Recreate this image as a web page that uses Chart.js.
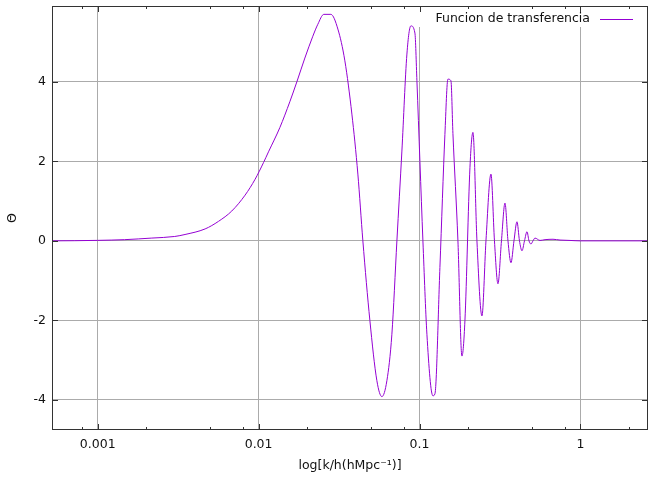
<!DOCTYPE html>
<html><head><meta charset="utf-8">
<script src="https://cdn.jsdelivr.net/npm/chart.js@4"></script>
<style>html,body{margin:0;padding:0;background:#fff}canvas{display:block}</style>
</head><body>
<canvas id="c" width="650" height="477"></canvas>
<script>
const kValues = [0.00052, 0.00072, 0.001, 0.00147, 0.00217, 0.00301, 0.00349, 0.00465, 0.00563, 0.00681,
  0.00824, 0.00951, 0.01073, 0.01152, 0.01355, 0.01563, 0.01728, 0.01938, 0.02173, 0.02334,
  0.02544, 0.02812, 0.03109, 0.03436, 0.03799, 0.04139, 0.04446, 0.04914, 0.05433, 0.05837,
  0.06269, 0.06734, 0.07235, 0.07772, 0.08349, 0.08843, 0.09363, 0.09634, 0.10058, 0.10499,
  0.11117, 0.12115, 0.12467, 0.13390, 0.14384, 0.15015, 0.15675, 0.16130, 0.17329, 0.18350,
  0.19156, 0.20576, 0.21480, 0.22746, 0.24434, 0.25877, 0.27797, 0.29226, 0.30727, 0.32307,
  0.33969, 0.35461, 0.37020, 0.38644, 0.40338, 0.41808, 0.43333, 0.44912, 0.46549, 0.47902,
  0.49294, 0.50727, 0.52199, 0.56080, 0.60248, 0.67549, 0.74662, 0.86164, 0.99428, 2.6331];
const thetaValues = [0.000, 0.004, 0.012, 0.03, 0.07, 0.11, 0.16, 0.30, 0.49, 0.75,
  1.15, 1.55, 1.97, 2.24, 2.85, 3.50, 4.00, 4.60, 5.15, 5.45,
  5.70, 5.70, 5.33, 4.53, 3.19, 1.68, 0.0, -2.0, -3.52, -3.92,
  -3.52, -2.35, 0.0, 2.26, 4.7, 5.41, 5.23, 4.03, 2.0, 0.0,
  -2.35, -3.9, -3.85, -0.67, 2.68, 4.07, 4.03, 2.7, 0.0, -2.9,
  -2.0, 1.84, 2.73, 0.0, -1.89, 0.0, 1.68, 0.0, -1.08, 0.0,
  0.95, 0.0, -0.55, 0.0, 0.48, 0.0, -0.25, 0.0, 0.23, 0.0,
  -0.08, 0.0, 0.07, 0.01, 0.03, 0.04, 0.02, 0.01, 0.0, 0.0];
const xMajorTicks = [0.001, 0.01, 0.1, 1];
const xMinorTicks = [0.0008, 0.002, 0.005, 0.008, 0.02, 0.05, 0.08, 0.2, 0.5, 0.8, 2];
const yTicks = [-4, -2, 0, 2, 4];
const seriesLabel = 'Funcion de transferencia';
const xTitle = 'log[k/h(hMpc\u207B\u00B9)]';
const yTitle = '\u0398';
const xRange = [0.00052, 2.63];
const yRange = [-4.76, 5.91];

const FONT = '"DejaVu Sans", sans-serif';
const FSIZE = 12.5;
const TEXT = '#111';
const AXIS = '#333';
const GRID = '#ababab';
const LINE = '#9400d3';

const keyPlugin = {
  id: 'key',
  beforeDatasetsDraw(chart) {
    const {ctx, chartArea: a} = chart;
    const ds = chart.data.datasets[0];
    ctx.save();
    ctx.fillStyle = '#fff';
    ctx.fillRect(418, a.top + 1, a.right - 418 - 1, 20);
    ctx.font = FSIZE + 'px ' + FONT;
    ctx.fillStyle = TEXT;
    ctx.textAlign = 'right';
    ctx.textBaseline = 'middle';
    ctx.fillText(ds.label, a.right - 58, a.top + 12.5);
    ctx.strokeStyle = ds.borderColor;
    ctx.lineWidth = 1;
    ctx.beginPath();
    ctx.moveTo(a.right - 48, a.top + 13.5);
    ctx.lineTo(a.right - 15, a.top + 13.5);
    ctx.stroke();
    ctx.restore();
  }
};

const framePlugin = {
  id: 'frame',
  afterDraw(chart) {
    const {ctx, chartArea: a, scales} = chart;
    const xs = scales.x, ys = scales.y;
    ctx.save();
    ctx.strokeStyle = AXIS;
    ctx.lineWidth = 1;
    ctx.beginPath();
    const tick = (v, len) => {
      const px = Math.round(xs.getPixelForValue(v)) + 0.5;
      if (px < a.left || px > a.right) return;
      ctx.moveTo(px, a.bottom); ctx.lineTo(px, a.bottom - len);
      ctx.moveTo(px, a.top); ctx.lineTo(px, a.top + len);
    };
    xMajorTicks.forEach(v => tick(v, 6));
    xMinorTicks.forEach(v => tick(v, 3));
    yTicks.forEach(v => {
      const py = Math.round(ys.getPixelForValue(v)) + 0.5;
      ctx.moveTo(a.left, py); ctx.lineTo(a.left + 6, py);
      ctx.moveTo(a.right, py); ctx.lineTo(a.right - 6, py);
    });
    ctx.stroke();
    ctx.strokeRect(a.left + 0.5, a.top + 0.5, a.right - a.left - 1, a.bottom - a.top - 1);
    ctx.restore();
  }
};

new Chart(document.getElementById('c'), {
  type: 'line',
  data: {
    datasets: [{
      label: seriesLabel,
      data: kValues.map((k, i) => ({x: k, y: thetaValues[i]})),
      borderColor: LINE,
      borderWidth: 1,
      borderJoinStyle: 'round',
      cubicInterpolationMode: 'monotone',
      pointRadius: 0,
      fill: false
    }]
  },
  options: {
    responsive: false,
    devicePixelRatio: 1,
    animation: false,
    layout: {padding: {left: 0, right: 2, top: 6, bottom: 0}},
    plugins: {legend: {display: false}, tooltip: {enabled: false}},
    scales: {
      x: {
        type: 'logarithmic',
        min: xRange[0], max: xRange[1],
        afterBuildTicks: s => { s.ticks = xMajorTicks.map(v => ({value: v})); },
        afterFit: s => { s.height = 47; s.paddingLeft = 0; s.paddingRight = 0; },
        ticks: {callback: v => String(v), color: TEXT, font: {family: FONT, size: FSIZE}, padding: 7, maxRotation: 0, autoSkip: false},
        grid: {color: GRID, lineWidth: 1, drawTicks: false},
        border: {display: false},
        title: {display: true, text: xTitle, color: TEXT, font: {family: FONT, size: FSIZE}, padding: {top: 0, bottom: 4}}
      },
      y: {
        type: 'linear',
        min: yRange[0], max: yRange[1],
        afterBuildTicks: s => { s.ticks = yTicks.map(v => ({value: v})); },
        afterFit: s => { s.width = 52; s.paddingTop = 0; s.paddingBottom = 0; },
        ticks: {callback: v => String(v), color: TEXT, font: {family: FONT, size: FSIZE}, padding: 6},
        grid: {color: GRID, lineWidth: 1, drawTicks: false},
        border: {display: false},
        title: {display: true, text: yTitle, color: TEXT, font: {family: FONT, size: FSIZE}, padding: {top: 5, bottom: 0}}
      }
    }
  },
  plugins: [keyPlugin, framePlugin]
});
</script>
</body></html>
